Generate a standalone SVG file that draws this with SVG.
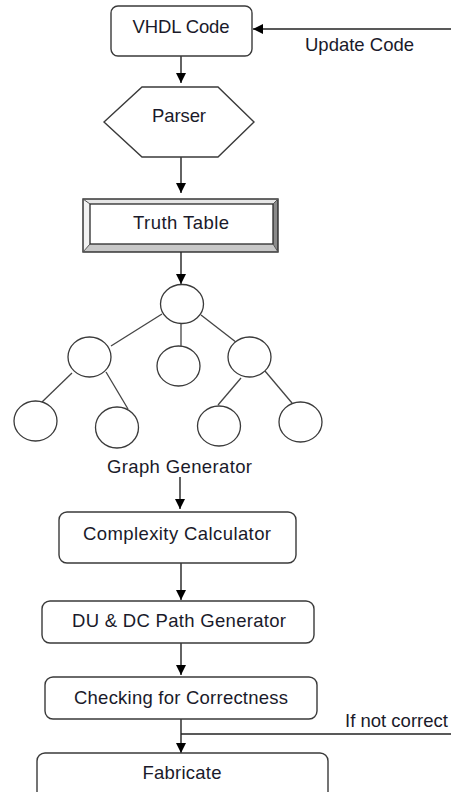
<svg xmlns="http://www.w3.org/2000/svg" width="451" height="792" viewBox="0 0 451 792">
<style>
.box{fill:#fff;stroke:#3a3a3a;stroke-width:1.4}
.c{fill:#fff;stroke:#3a3a3a;stroke-width:1.3}
.ln{fill:none;stroke:#222;stroke-width:1.4}
.tl{fill:none;stroke:#444;stroke-width:1.3}
text{font-family:"Liberation Sans",Arial,sans-serif;font-size:18.5px;fill:#1a1a2a}
.m{text-anchor:middle}
</style>
<defs>
<marker id="ah" viewBox="0 0 10 10" refX="10" refY="5" markerWidth="10" markerHeight="10" markerUnits="userSpaceOnUse" orient="auto">
<path d="M0,0 L10,5 L0,10 Z" fill="#000"/>
</marker>
</defs>
<g id="connectors">
<line class="ln" x1="451" y1="29" x2="253" y2="29" marker-end="url(#ah)"/>
<line class="ln" x1="181" y1="56" x2="181" y2="83" marker-end="url(#ah)"/>
<line class="ln" x1="181" y1="157" x2="181" y2="193" marker-end="url(#ah)"/>
<line class="ln" x1="181" y1="252" x2="181" y2="284" marker-end="url(#ah)"/>
<line class="tl" x1="162" y1="314" x2="111" y2="346"/>
<line class="tl" x1="181" y1="324" x2="181" y2="346"/>
<line class="tl" x1="201" y1="315" x2="241" y2="346"/>
<line class="tl" x1="72" y1="373" x2="42" y2="402"/>
<line class="tl" x1="106" y1="372" x2="128" y2="409"/>
<line class="tl" x1="241" y1="378" x2="218" y2="405"/>
<line class="tl" x1="265" y1="371" x2="292" y2="403"/>
<line class="ln" x1="180" y1="477" x2="180" y2="509" marker-end="url(#ah)"/>
<line class="ln" x1="181" y1="563" x2="181" y2="600" marker-end="url(#ah)"/>
<line class="ln" x1="181" y1="643" x2="181" y2="675" marker-end="url(#ah)"/>
<line class="ln" x1="181" y1="719" x2="181" y2="753" marker-end="url(#ah)"/>
<line class="ln" x1="181" y1="734" x2="451" y2="734"/>
<text x="305" y="51">Update Code</text>
<text x="345" y="727" textLength="103">If not correct</text>
</g>
<g id="vhdl">
<rect class="box" x="111" y="6" width="141" height="50" rx="7"/>
<text class="m" x="181" y="33" textLength="97">VHDL Code</text>
</g>
<g id="parser">
<polygon class="box" points="104,122 142,87 218,87 254,122 218,157 142,157"/>
<text class="m" x="179" y="122" textLength="54">Parser</text>
</g>
<g id="truth">
<rect x="83" y="199" width="195" height="53" fill="#fff"/>
<polygon points="83,199 278,199 273,204 90,204" fill="#e6e6e6"/>
<polygon points="83,199 90,204 90,244 83,252" fill="#f2f2f2"/>
<polygon points="278,199 278,252 273,244 273,204" fill="#8a8a8a"/>
<polygon points="83,252 278,252 273,244 90,244" fill="#c8c8c8"/>
<rect x="83" y="199" width="195" height="53" fill="none" stroke="#2a2a2a" stroke-width="1.4"/>
<rect x="90" y="204" width="183" height="40" fill="none" stroke="#2a2a2a" stroke-width="1.3"/>
<line x1="83" y1="199" x2="90" y2="204" stroke="#555" stroke-width="1"/>
<line x1="278" y1="199" x2="273" y2="204" stroke="#555" stroke-width="1"/>
<line x1="83" y1="252" x2="90" y2="244" stroke="#555" stroke-width="1"/>
<line x1="278" y1="252" x2="273" y2="244" stroke="#555" stroke-width="1"/>
<text class="m" x="181" y="229" textLength="96">Truth Table</text>
</g>
<g id="graph">
<ellipse class="c" cx="182" cy="304" rx="21.5" ry="19.5"/>
<ellipse class="c" cx="89.5" cy="357" rx="21.5" ry="20"/>
<ellipse class="c" cx="178.5" cy="366" rx="21.5" ry="20"/>
<ellipse class="c" cx="249.5" cy="357" rx="21.5" ry="20"/>
<ellipse class="c" cx="35.5" cy="421" rx="21.5" ry="20"/>
<ellipse class="c" cx="117" cy="427.5" rx="21.5" ry="20.5"/>
<ellipse class="c" cx="219" cy="426" rx="21.5" ry="20"/>
<ellipse class="c" cx="300.5" cy="422" rx="21.5" ry="20"/>
<text class="m" x="179.5" y="473" textLength="145">Graph Generator</text>
</g>
<g id="complexity">
<rect class="box" x="59" y="512" width="237" height="51" rx="8"/>
<text class="m" x="177" y="540" textLength="188">Complexity Calculator</text>
</g>
<g id="dudc">
<rect class="box" x="42" y="601" width="272" height="42" rx="8"/>
<text class="m" x="179" y="627" textLength="214">DU &amp; DC Path Generator</text>
</g>
<g id="checking">
<rect class="box" x="45" y="677" width="272" height="42" rx="8"/>
<text class="m" x="181" y="704" textLength="214">Checking for Correctness</text>
</g>
<g id="fabricate">
<rect class="box" x="37" y="753" width="291" height="50" rx="8"/>
<text class="m" x="182" y="779" textLength="79">Fabricate</text>
</g>
</svg>
